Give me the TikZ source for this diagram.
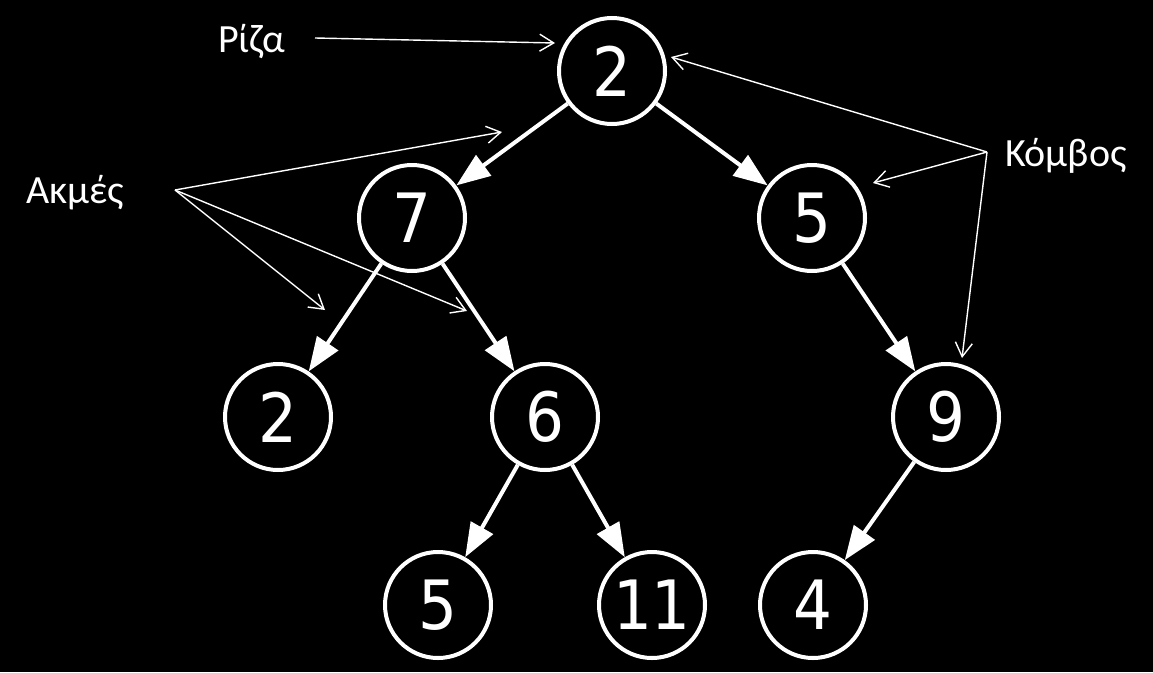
\documentclass[tikz,border=0pt]{standalone}
\usepackage{fontspec}
\setmainfont{Carlito}
\newfontfamily\numfont{DejaVu Sans Condensed}
\usetikzlibrary{arrows.meta}
\begin{document}
\begin{tikzpicture}[x=1pt,y=-1pt,
  treenode/.style={circle,draw=white,line width=4pt,fill=black,minimum size=106pt,inner sep=0pt,
    text=white,font=\numfont\fontsize{68}{80}\selectfont},
  treeedge/.style={draw=white,line width=4pt,-{Triangle[length=34pt,width=25pt]}},
  labeltext/.style={text=white,font=\fontsize{40}{48}\selectfont,inner sep=0pt},
  pointer/.style={draw=white,line width=1.4pt,-{Straight Barb[length=14pt,width=17pt,line width=1.4pt]}}]
\fill[black] (0,0) rectangle (1153,672);
\useasboundingbox (0,0) rectangle (1153,672);

\node[treenode] (n2) at (612,71) {2};
\node[treenode] (n7) at (412,218) {7};
\node[treenode] (n5) at (812,218) {5};
\node[treenode] (n2b) at (278,417) {2};
\node[treenode] (n6) at (545,417) {6};
\node[treenode] (n9) at (946,417) {9};
\node[treenode] (n5b) at (438,605) {5};
\node[treenode] (n11) at (652,605) {11};
\node[treenode] (n4) at (813,605) {4};

\draw[treeedge] (n2) -- (n7);
\draw[treeedge] (n2) -- (n5);
\draw[treeedge] (n7) -- (n2b);
\draw[treeedge] (n7) -- (n6);
\draw[treeedge] (n5) -- (n9);
\draw[treeedge] (n6) -- (n5b);
\draw[treeedge] (n6) -- (n11);
\draw[treeedge] (n9) -- (n4);

\node[labeltext,anchor=base west] (riza) at (218,52) {Ρίζα};
\node[labeltext,anchor=base west] (akmes) at (26,203) {Ακμές};
\node[labeltext,anchor=base west] (kombos) at (1005,166) {Κόμβος};

\coordinate (rizaS) at (315,38);
\coordinate (rizaE) at (555,43);
\coordinate (akS) at (175,190);
\coordinate (akE1) at (502,132);
\coordinate (akE2) at (325,310);
\coordinate (akE3) at (467,311);
\coordinate (koS) at (987,152);
\coordinate (koE1) at (671,57);
\coordinate (koE2) at (873,183);
\coordinate (koE3) at (962,358);

\draw[pointer] (rizaS) -- (rizaE);
\draw[pointer] (akS) -- (akE1);
\draw[pointer] (akS) -- (akE2);
\draw[pointer] (akS) -- (akE3);
\draw[pointer] (koS) -- (koE1);
\draw[pointer] (koS) -- (koE2);
\draw[pointer] (koS) -- (koE3);
\end{tikzpicture}
\end{document}
